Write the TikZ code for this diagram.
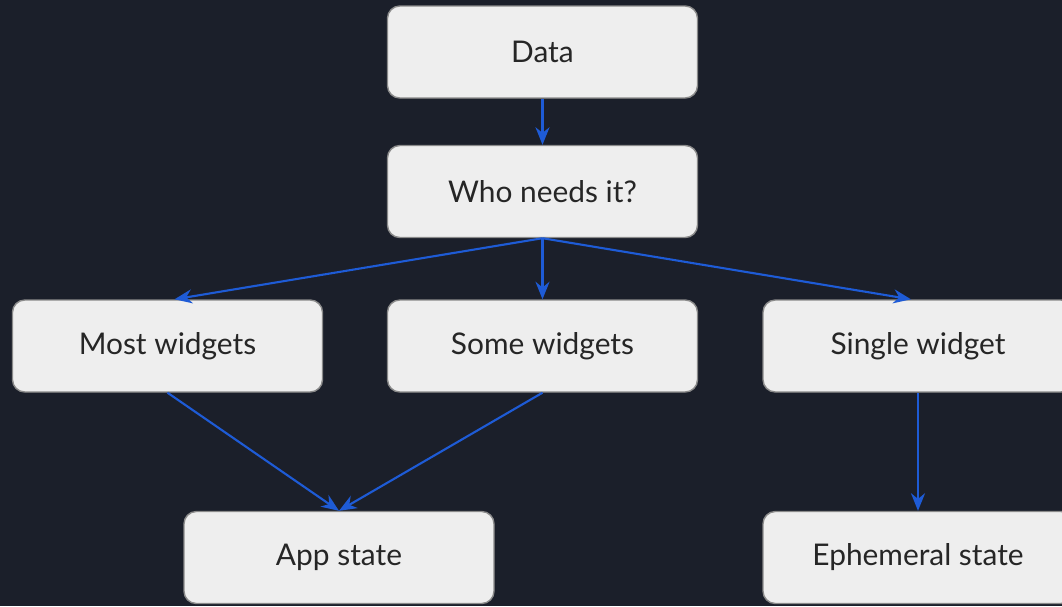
\documentclass[tikz,border=0pt]{standalone}
\usepackage{fontspec}
\setmainfont{Lato}
\usetikzlibrary{arrows.meta}
\definecolor{bgnavy}{HTML}{1B1F2A}
\definecolor{boxfill}{HTML}{EEEEEE}
\definecolor{boxline}{HTML}{8A8A8A}
\definecolor{flowblue}{HTML}{1E5BD6}
\tikzset{
    statebox/.style={draw=boxline,line width=0.8pt,fill=boxfill,rounded corners=7pt,
        minimum width=6.2cm,minimum height=1.84cm,font=\fontsize{17}{19}\selectfont,text=black!85},
    flow/.style={draw=flowblue,line width=1.2pt,-{Stealth[length=10pt,width=8pt]}}
}
\begin{document}
\begin{tikzpicture}
        %% background
        \fill[bgnavy] (0,0) rectangle (21.24,-12.12);
        \useasboundingbox (0,0) rectangle (21.24,-12.12);
        %% boxes
        \node[statebox] (data) at (10.85,-1.04) {Data};
        \node[statebox] (who) at (10.85,-3.83) {Who needs it?};
        \node[statebox] (most) at (3.35,-6.92) {Most widgets};
        \node[statebox] (some) at (10.85,-6.92) {Some widgets};
        \node[statebox] (single) at (18.36,-6.92) {Single widget};
        \node[statebox] (app) at (6.78,-11.15) {App state};
        \node[statebox] (ephem) at (18.36,-11.15) {Ephemeral state};
        %% arrows
        \draw[flow] (data) -- (who);
        \draw[flow] (who.south) -- ([xshift=4pt]most.north);
        \draw[flow] (who.south) -- (some.north);
        \draw[flow] (who.south) -- ([xshift=-4pt]single.north);
        \draw[flow] (most.south) -- (app.north);
        \draw[flow] (some.south) -- (app.north);
        \draw[flow] (single) -- (ephem);
    \end{tikzpicture}
\end{document}
